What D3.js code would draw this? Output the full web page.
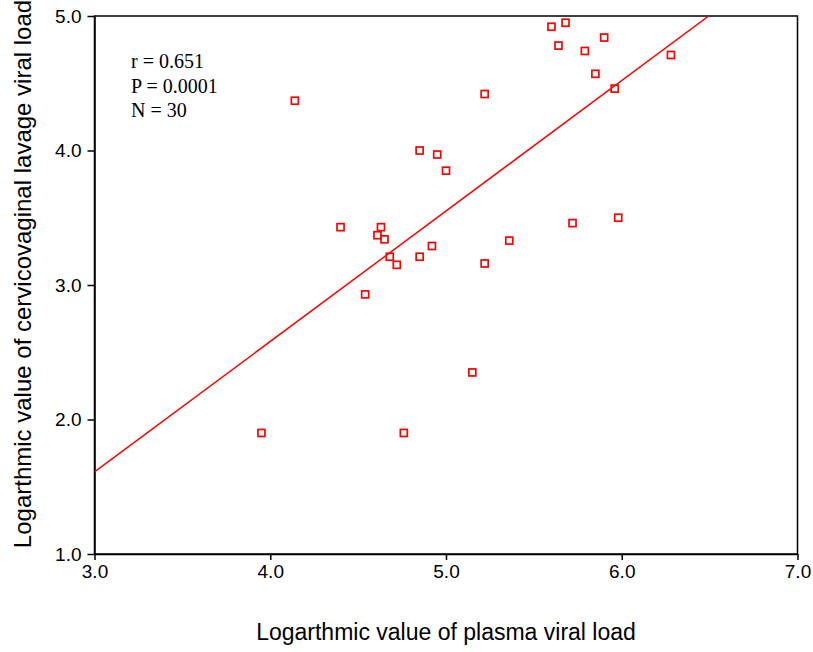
<!DOCTYPE html>
<html>
<head>
<meta charset="utf-8">
<script src="https://d3js.org/d3.v7.min.js"></script>
<style>
  body { margin: 0; background: #fff; }
  svg { display: block; }
</style>
</head>
<body>
<svg id="chart" width="813" height="652"></svg>
<script>
// plasma viral load (log) vs cervicovaginal lavage viral load (log)
var plasma = [3.95, 4.14, 4.40, 4.54, 4.61, 4.63, 4.65, 4.68, 4.72, 4.76,
              4.85, 4.85, 4.92, 4.95, 5.00, 5.15, 5.22, 5.22, 5.36, 5.60,
              5.64, 5.68, 5.72, 5.79, 5.85, 5.90, 5.96, 5.98, 6.28];
var lavage = [1.90, 4.37, 3.43, 2.93, 3.37, 3.43, 3.34, 3.21, 3.15, 1.90,
              4.00, 3.21, 3.29, 3.97, 3.85, 2.35, 4.42, 3.16, 3.33, 4.92,
              4.78, 4.95, 3.46, 4.74, 4.57, 4.84, 4.46, 3.50, 4.71];
var xTicks = [3.0, 4.0, 5.0, 6.0, 7.0];
var yTicks = [1.0, 2.0, 3.0, 4.0, 5.0];
var fitLine = { intercept: -1.30, slope: 0.970 };
var stats = ["r = 0.651", "P = 0.0001", "N = 30"];

var svg = d3.select("#chart");
var margin = {top: 16, right: 15.5, bottom: 98, left: 94.5};
var W = 813 - margin.left - margin.right;
var H = 652 - margin.top - margin.bottom;

var x = d3.scaleLinear().domain([3, 7]).range([0, W]);
var y = d3.scaleLinear().domain([1, 5]).range([H, 0]);

var g = svg.append("g").attr("transform", "translate(" + margin.left + "," + margin.top + ")");

svg.append("defs").append("clipPath").attr("id", "clip")
  .append("rect").attr("width", W).attr("height", H);

// frame
g.append("rect")
  .attr("width", W).attr("height", H)
  .attr("fill", "none").attr("stroke", "#000").attr("stroke-width", 1.5);

// axes
var xAxis = g.append("g").attr("transform", "translate(0," + H + ")")
  .call(d3.axisBottom(x).tickValues(xTicks).tickFormat(d3.format(".1f")).tickSizeInner(6).tickSizeOuter(0).tickPadding(5));
var yAxis = g.append("g")
  .call(d3.axisLeft(y).tickValues(yTicks).tickFormat(d3.format(".1f")).tickSizeInner(7).tickSizeOuter(0).tickPadding(6));

[xAxis, yAxis].forEach(function(a) {
  a.select(".domain").attr("stroke", "#000").attr("stroke-width", 1.5);
  a.selectAll(".tick line").attr("stroke", "#000").attr("stroke-width", 1.5);
  a.selectAll(".tick text")
    .attr("fill", "#000")
    .style("font-family", "'Liberation Sans', Arial, sans-serif")
    .style("font-size", "19px");
});

// regression line
var x0 = 3, x1 = Math.min(7, (5 - fitLine.intercept) / fitLine.slope);
g.append("line")
  .attr("clip-path", "url(#clip)")
  .attr("x1", x(x0)).attr("y1", y(fitLine.intercept + fitLine.slope * x0))
  .attr("x2", x(x1)).attr("y2", y(fitLine.intercept + fitLine.slope * x1))
  .attr("stroke", "red").attr("stroke-width", 1.5);

// points
var pts = plasma.map(function(v, i) { return {x: v, y: lavage[i]}; });
g.selectAll("rect.pt").data(pts).enter().append("rect")
  .attr("class", "pt")
  .attr("x", function(d) { return x(d.x) - 3.5; })
  .attr("y", function(d) { return y(d.y) - 3.5; })
  .attr("width", 7).attr("height", 7)
  .attr("fill", "none").attr("stroke", "red").attr("stroke-width", 1.7);

// stats text
g.selectAll("text.stat").data(stats).enter().append("text")
  .attr("class", "stat")
  .attr("x", 36.5)
  .attr("y", function(d, i) { return 52 + i * 24.5; })
  .style("font-family", "'Liberation Serif', 'Times New Roman', serif")
  .style("font-size", "20px")
  .text(function(d) { return d; });

// axis titles
svg.append("text")
  .attr("x", margin.left + W / 2).attr("y", 640)
  .attr("text-anchor", "middle")
  .style("font-family", "'Liberation Sans', Arial, sans-serif")
  .style("font-size", "23px")
  .text("Logarthmic value of plasma viral load");

svg.append("text")
  .attr("transform", "translate(31,274) rotate(-90)")
  .attr("text-anchor", "middle")
  .style("font-family", "'Liberation Sans', Arial, sans-serif")
  .style("font-size", "24px")
  .text("Logarthmic value of cervicovaginal lavage viral load");
</script>
</body>
</html>
